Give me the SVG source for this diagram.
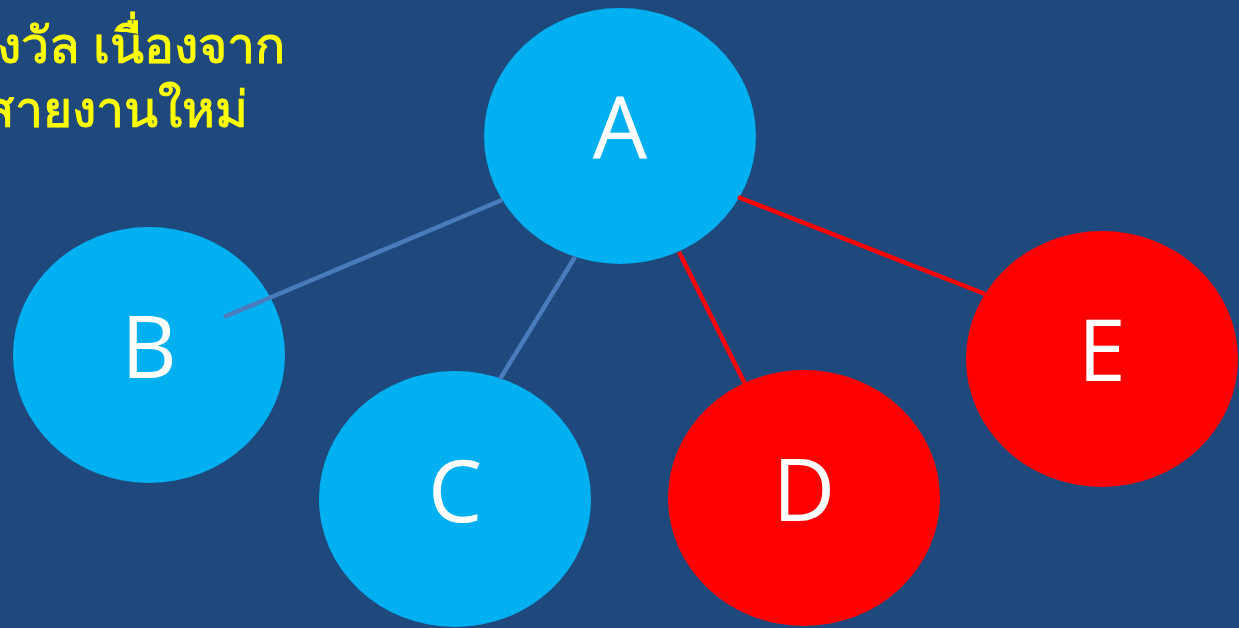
<svg xmlns="http://www.w3.org/2000/svg" width="1239" height="628" viewBox="0 0 1239 628">
<style>
.bg{fill:#1f497d}
.blue{fill:#00b0f0}
.red{fill:#ff0000}
.lbl{font-family:"Open Sans","Noto Sans",sans-serif;font-size:86px;fill:#ffffff;text-anchor:middle}
.thai{font-family:"Noto Sans","DejaVu Sans",sans-serif;font-size:50px;fill:#ffff00;stroke:#ffff00;stroke-width:1}
.cb{stroke:#4a7bbd;stroke-width:4.5;fill:none}
.cr{stroke:#ff0000;stroke-width:4.5;fill:none}
</style>
<rect class="bg" x="0" y="0" width="1239" height="628"/>
<g id="title">
<text class="thai" x="-3" y="63">งวัล เนื่องจาก</text>
<text class="thai" x="-16" y="127">สายงานใหม่</text>
</g>
<g id="node-B"><ellipse class="blue" cx="149" cy="355" rx="136" ry="128"/><text class="lbl" x="149" y="378">B</text></g>
<g id="node-C"><ellipse class="blue" cx="455" cy="499" rx="136" ry="128"/><text class="lbl" x="455" y="522">C</text></g>
<g id="node-D"><ellipse class="red" cx="804" cy="498" rx="136" ry="128"/><text class="lbl" x="804" y="521">D</text></g>
<g id="node-E"><ellipse class="red" cx="1102" cy="359" rx="136" ry="128"/><text class="lbl" x="1102" y="381">E</text></g>
<g id="node-A"><ellipse class="blue" cx="620" cy="136" rx="136" ry="128"/><text class="lbl" x="620" y="159">A</text></g>
<g id="connectors">
<line class="cb" x1="502" y1="200" x2="224" y2="317"/>
<line class="cb" x1="575" y1="257" x2="500" y2="379"/>
<line class="cr" x1="679" y1="252" x2="745" y2="384"/>
<line class="cr" x1="738" y1="197" x2="985" y2="294"/>
</g>
</svg>
